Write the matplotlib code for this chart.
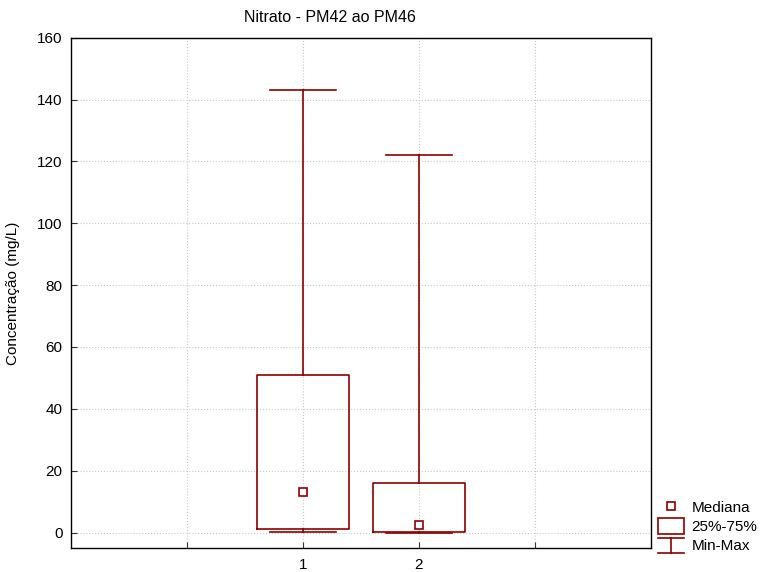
import matplotlib
matplotlib.use("Agg")
import matplotlib.pyplot as plt
from matplotlib.legend_handler import HandlerBase
from matplotlib.lines import Line2D
from matplotlib.patches import Rectangle

plt.rcParams["font.family"] = ["Liberation Sans", "DejaVu Sans"]
plt.rcParams["font.size"] = 11

labels = ["1", "2"]
mins = [0.3, 0.0]
q1s = [1.0, 0.2]
medians = [13.0, 2.5]
q3s = [51.0, 16.0]
maxs = [143.0, 122.0]

COLOR = "#8b0000"

stats = []
for lab, lo, a, m, b, hi in zip(labels, mins, q1s, medians, q3s, maxs):
    stats.append(dict(label=lab, whislo=lo, q1=a, med=m, q3=b, whishi=hi, mean=m, fliers=[]))

fig = plt.figure(figsize=(7.64, 5.72), dpi=100)
ax = fig.add_axes([0.093, 0.042, 0.759, 0.892])

line = dict(color=COLOR, linewidth=1.2)
ax.bxp(stats, positions=[2, 3], widths=0.8, capwidths=0.57,
       boxprops=line, whiskerprops=line, capprops=line,
       medianprops=dict(linewidth=0), showmeans=True,
       meanprops=dict(marker="s", markersize=6, markerfacecolor="white",
                      markeredgecolor=COLOR, markeredgewidth=1.2),
       showfliers=False, manage_ticks=False, zorder=3)

ax.set_xlim(0, 5)
ax.set_ylim(-5, 160)
ax.set_xticks([1, 2, 3, 4])
ax.set_xticklabels(["", "1", "2", ""])
ax.set_yticks(range(0, 161, 20))
ax.grid(True, linestyle=":", color="#c8c8c8", linewidth=0.8)
ax.tick_params(direction="in", length=4, color="#333333", labelsize=11)
ax.tick_params(axis="x", pad=7.5)
ax.tick_params(axis="y", pad=6)
for s in ax.spines.values():
    s.set_color("black")
    s.set_linewidth(1)

ax.set_title("Nitrato - PM42 ao PM46", fontsize=11.5, x=0.447, pad=11)
ax.set_ylabel("Concentração (mg/L)", fontsize=11)
ax.yaxis.set_label_coords(-0.088, 0.5)


class BoxHandler(HandlerBase):
    def create_artists(self, legend, orig, xd, yd, w, h, fontsize, trans):
        r = Rectangle((xd, yd - 1.9), w, h + 3.8, facecolor="white",
                      edgecolor=COLOR, linewidth=1.2, transform=trans)
        return [r]


class MinMaxHandler(HandlerBase):
    def create_artists(self, legend, orig, xd, yd, w, h, fontsize, trans):
        cx = xd + w / 2
        top, bot = yd + h + 1.5, yd - 1.5
        a = Line2D([xd, xd + w], [top, top], color=COLOR, lw=1.2, transform=trans)
        b = Line2D([xd, xd + w], [bot, bot], color=COLOR, lw=1.2, transform=trans)
        c = Line2D([cx, cx], [bot, top], color=COLOR, lw=1.2, transform=trans)
        return [a, b, c]


med_handle = Line2D([], [], linestyle="none", marker="s", markersize=6,
                    markerfacecolor="white", markeredgecolor=COLOR, markeredgewidth=1.2)
box_handle = Rectangle((0, 0), 1, 1)
mm_handle = Line2D([], [])

fig.legend([med_handle, box_handle, mm_handle], ["Mediana", "25%-75%", "Min-Max"],
           handler_map={box_handle: BoxHandler(), mm_handle: MinMaxHandler()},
           loc="upper left", bbox_to_anchor=(0.861, 0.125), frameon=False,
           handlelength=1.7, handletextpad=0.5, labelspacing=0.36, fontsize=11,
           borderaxespad=0, borderpad=0)

fig.savefig("out.png", dpi=100)
